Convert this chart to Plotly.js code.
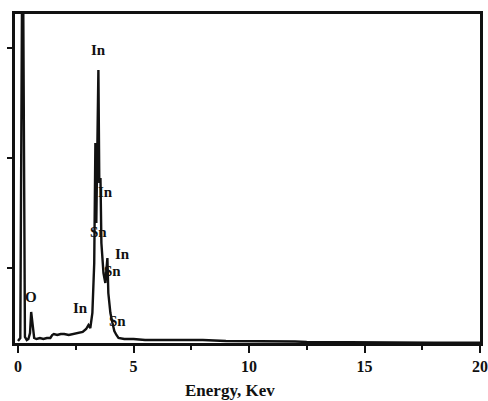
<!DOCTYPE html>
<html>
<head>
<meta charset="utf-8">
<script src="https://cdn.plot.ly/plotly-3.0.1.min.js"></script>
<style>html,body{margin:0;padding:0;background:#fff;}#chart{width:488px;height:401px;}</style>
</head>
<body>
<div id="chart"></div>
<script>
// EDS spectrum: energy (keV) and counts (arbitrary units)
const energy = [0.00,0.10,0.19,0.20,0.21,0.30,0.38,0.45,0.52,0.57,0.61,0.65,0.70,0.80,0.95,1.10,1.25,1.40,1.48,1.55,1.70,1.85,2.00,2.20,2.40,2.60,2.80,2.95,3.05,3.13,3.22,3.30,3.35,3.39,3.43,3.48,3.52,3.57,3.61,3.70,3.78,3.87,3.91,4.00,4.09,4.17,4.26,4.35,4.60,5.00,5.50,6.00,7.00,8.00,9.00,10.00,11.00,12.00,12.50,13.00,14.00,15.00,15.60,16.00,17.00,18.00,19.00,20.00];
const counts = [2,5,420,420,420,6,3,4,10,31,22,10,5,4,5,4,5,5,8,9,8,9,9,8,9,10,11,14,18,15,30,80,200,120,180,273,160,165,100,70,60,85,50,30,20,12,8,5,4,4,3,3,3,3,2,2,2,1.5,1,1,0.5,0.5,1,0.5,0.3,0.3,0.2,0.2];
const tickVals = [0,5,10,15,20];
const tickText = ['0','5','10','15','20'];
const yTickVals = [75,185,295];
const peakLabels = ['In','In','Sn','In','Sn','Sn','In','O'];
const peakLabelX = [3.48,3.78,3.48,4.52,4.09,4.30,2.70,0.57];
const peakLabelY = [293,151,111,89,72,22,35,46];
const xTitle = 'Energy, Kev';

const serif = 'Liberation Serif, DejaVu Serif, serif';
const annotations = peakLabels.map((t,i)=>({
  text:t, x:peakLabelX[i], y:peakLabelY[i], xref:'x', yref:'y',
  showarrow:false, font:{family:serif, size:15, color:'#111', weight:'bold'}
}));
annotations.push({text:xTitle, x:226/488, y:-0.11, xref:'paper', yref:'paper',
  xanchor:'center', yanchor:'top', showarrow:false,
  font:{family:serif, size:17, color:'#111', weight:'bold'}});

const trace = {x:energy, y:counts, mode:'lines', type:'scatter',
  line:{color:'#111', width:2.4}, cliponaxis:true, hoverinfo:'skip'};

const layout = {
  width:488, height:401,
  margin:{l:15, r:8, t:14, b:58},
  paper_bgcolor:'#fff', plot_bgcolor:'#fff',
  showlegend:false,
  xaxis:{range:[-0.13,20], tickvals:tickVals, ticktext:tickText,
    showgrid:false, zeroline:false, showline:true, mirror:true,
    linecolor:'#111', linewidth:3, ticks:'outside', ticklen:7, tickwidth:2, tickcolor:'#111',
    minor:{dtick:2.5, tick0:0, ticks:'outside', ticklen:4, tickwidth:2, tickcolor:'#111', showgrid:false},
    tickfont:{family:serif, size:16, color:'#111', weight:'bold'}},
  yaxis:{range:[0,329], tickvals:yTickVals, showticklabels:false,
    showgrid:false, zeroline:false, showline:true, mirror:true,
    linecolor:'#111', linewidth:3, ticks:'outside', ticklen:5, tickwidth:1.5, tickcolor:'#111'},
  annotations:annotations
};
Plotly.newPlot('chart',[trace],layout,{staticPlot:true, displayModeBar:false});
</script>
</body>
</html>
